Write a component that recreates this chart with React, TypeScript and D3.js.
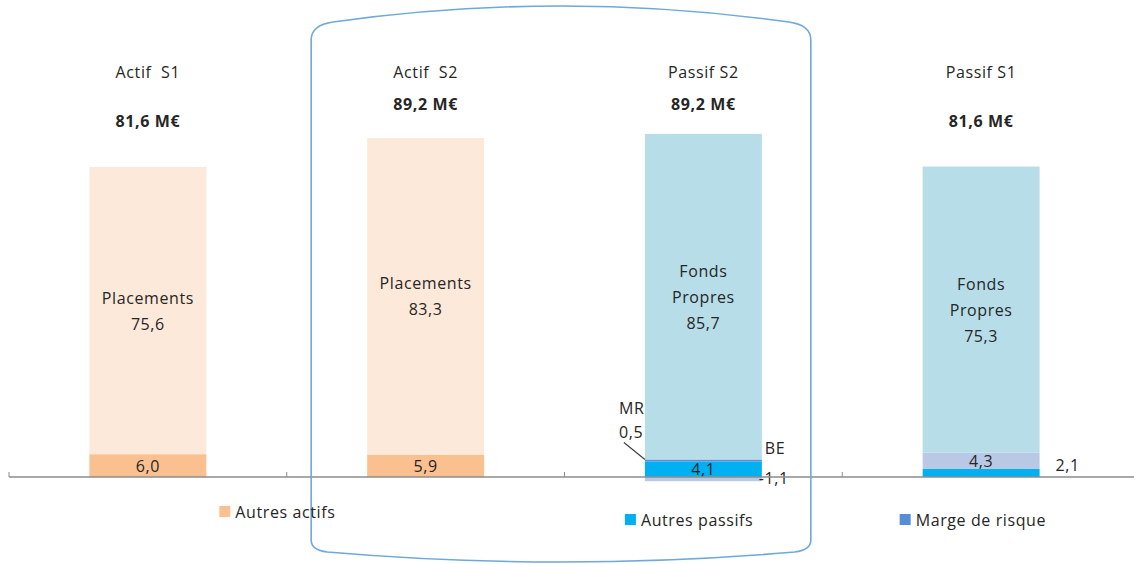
import { FC, useMemo } from 'react';
import * as d3 from 'd3';

// bilan S1 / S2, en M€
const categories = ['Actif S1', 'Actif S2', 'Passif S2', 'Passif S1'];
const titles = ['Actif\u00a0 S1', 'Actif\u00a0 S2', 'Passif S2', 'Passif S1'];
const totals = [81.6, 89.2, 89.2, 81.6];

const autresActifs = [6.0, 5.9, 0, 0];
const placements = [75.6, 83.3, 0, 0];
const autresPassifs = [0, 0, 4.1, 2.1];
const bestEstimate = [0, 0, -1.1, 4.3];
const margeRisque = [0, 0, 0.5, 0];
const fondsPropres = [0, 0, 85.7, 75.3];

const seriesKeys = ['autresActifs', 'placements', 'autresPassifs', 'be', 'mr', 'fondsPropres'];
const seriesValues: Record<string, number[]> = {
  autresActifs, placements, autresPassifs, be: bestEstimate, mr: margeRisque, fondsPropres,
};
const seriesColors: Record<string, string> = {
  autresActifs: '#fac090',
  placements: '#fde9d9',
  autresPassifs: '#00b0f0',
  be: '#b9c9e5',
  mr: '#558ed5',
  fondsPropres: '#b7dde8',
};
const innerNames: Record<string, string[]> = { placements: ['Placements'], fondsPropres: ['Fonds', 'Propres'] };
const shortNames: Record<string, string> = { be: 'BE', mr: 'MR' };

const legendKeys = ['autresActifs', 'autresPassifs', 'mr'];
const legendLabels = ['Autres actifs', 'Autres passifs', 'Marge de risque'];

const WIDTH = 1134, HEIGHT = 564;
const FONT = '"Open Sans", "Noto Sans", sans-serif';
const TEXT = '#262626';

const locale = d3.formatLocale({ decimal: ',', thousands: ' ', grouping: [3], currency: ['', ' €'], minus: '-' });
const fmt = locale.format('.1f');

type Row = { category: string; [k: string]: number | string };

const App: FC = () => {
  const xScale = useMemo(() => d3.scaleBand<string>().domain(categories).range([9, 1120]).paddingInner(0.579).paddingOuter(0.2895), []);
  const yScale = useMemo(() => d3.scaleLinear().domain([0, 90]).range([477, 477 - 90 * 3.8]), []);

  const rows: Row[] = categories.map((c, i) => {
    const r: Row = { category: c };
    seriesKeys.forEach((k) => (r[k] = seriesValues[k][i]));
    return r;
  });
  const stacked = d3.stack<Row>().keys(seriesKeys).offset(d3.stackOffsetDiverging)(rows as any);

  const bw = xScale.bandwidth();
  const y0 = yScale(0);
  const step = xScale.step();
  const tickXs = categories.map((c) => (xScale(c) as number) - (step * xScale.paddingInner()) / 2);

  const fontProps = { fontFamily: FONT, fontSize: 16, letterSpacing: 0.6, fill: TEXT };

  const left2 = (xScale('Actif S2') as number) - 56;
  const right3 = (xScale('Passif S2') as number) + bw + 49;
  const frameTop = 24, frameBottom = 552;
  const midX = (left2 + right3) / 2;
  const framePath = `M${left2},${frameTop + 16} Q${left2},${frameTop + 1} ${left2 + 22},${frameTop - 2}
    Q${midX},${frameTop - 34} ${right3 - 22},${frameTop - 2} Q${right3},${frameTop + 1} ${right3},${frameTop + 16}
    L${right3},${frameBottom - 12} Q${right3},${frameBottom - 2} ${right3 - 16},${frameBottom}
    Q${midX},${frameBottom + 20} ${left2 + 16},${frameBottom} Q${left2},${frameBottom - 2} ${left2},${frameBottom - 12} Z`;

  const legendX = [
    (xScale('Actif S1') as number) + bw + 13,
    (xScale('Passif S2') as number) - 20,
    (xScale('Passif S1') as number) - 23,
  ];
  const legendY = [512, 520, 520];

  return (
    <svg width={WIDTH} height={HEIGHT} style={{ position: 'absolute', left: 0, top: 0, background: '#fff' }}>
      {/* barres empilées */}
      {stacked.map((s) =>
        s.map((d, i) => {
          if (d[0] === d[1]) return null;
          const x = xScale(categories[i]) as number;
          const top = yScale(Math.max(d[0], d[1]));
          const h = Math.abs(yScale(d[0]) - yScale(d[1]));
          return <rect key={s.key + i} x={x} y={top} width={bw} height={h} fill={seriesColors[s.key]} />;
        })
      )}

      {/* étiquettes des segments */}
      {stacked.map((s) =>
        s.map((d, i) => {
          if (d[0] === d[1]) return null;
          const key = s.key;
          const v = seriesValues[key][i];
          const x = xScale(categories[i]) as number;
          const top = yScale(Math.max(d[0], d[1]));
          const bottom = yScale(Math.min(d[0], d[1]));
          const h = bottom - top;
          const mid = (top + bottom) / 2;
          if (h >= 12) {
            const lines = [...(innerNames[key] || []), fmt(v)];
            return (
              <g key={'l' + key + i}>
                {lines.map((t, k) => (
                  <text key={k} x={x + bw / 2} y={mid + (k - (lines.length - 1) / 2) * 26} textAnchor="middle" dominantBaseline="central" {...fontProps}>
                    {t}
                  </text>
                ))}
              </g>
            );
          }
          if (key === 'mr') {
            return (
              <g key={'l' + key + i}>
                <line x1={x - 21} y1={top - 17} x2={x} y2={top} stroke="#404040" strokeWidth={1.2} />
                <text x={x - 26} y={top - 52} dominantBaseline="central" {...fontProps}>{shortNames[key]}</text>
                <text x={x - 26} y={top - 28} dominantBaseline="central" {...fontProps}>{fmt(v)}</text>
              </g>
            );
          }
          if (shortNames[key]) {
            return (
              <g key={'l' + key + i}>
                <text x={x + bw + 3} y={y0 - 29} dominantBaseline="central" {...fontProps}>{shortNames[key]}</text>
                <text x={x + bw - 3} y={y0 + 1} dominantBaseline="central" {...fontProps}>{fmt(v)}</text>
              </g>
            );
          }
          return (
            <text key={'l' + key + i} x={x + bw + 16} y={mid - 8} dominantBaseline="central" {...fontProps}>{fmt(v)}</text>
          );
        })
      )}

      {/* axe */}
      <line x1={tickXs[0]} x2={WIDTH} y1={y0} y2={y0} stroke="#8c8c8c" strokeWidth={1.5} />
      {tickXs.map((tx, i) => (
        <line key={i} x1={tx} x2={tx} y1={y0} y2={y0 - 5} stroke="#8c8c8c" strokeWidth={1} />
      ))}

      {/* titres et totaux */}
      {categories.map((c, i) => {
        const cx = (xScale(c) as number) + bw / 2;
        const top = yScale(totals[i]);
        return (
          <g key={'t' + c}>
            <text x={cx} y={72} textAnchor="middle" dominantBaseline="central" {...fontProps} style={{ whiteSpace: 'pre' }}>
              {titles[i]}
            </text>
            <text x={cx} y={Math.max(104, top - 46)} textAnchor="middle" dominantBaseline="central" {...fontProps} fontWeight="bold">
              {fmt(totals[i]) + ' M€'}
            </text>
          </g>
        );
      })}

      {/* cadre S2 */}
      <path d={framePath} fill="none" stroke="#6fa8dc" strokeWidth={1.6} />

      {/* légende */}
      {legendKeys.map((k, i) => (
        <g key={'leg' + k} transform={`translate(${legendX[i]},${legendY[i]})`}>
          <rect x={0} y={-6} width={11} height={11} fill={seriesColors[k]} />
          <text x={16} y={0} dominantBaseline="central" {...fontProps}>{legendLabels[i]}</text>
        </g>
      ))}
    </svg>
  );
};

export default App;
